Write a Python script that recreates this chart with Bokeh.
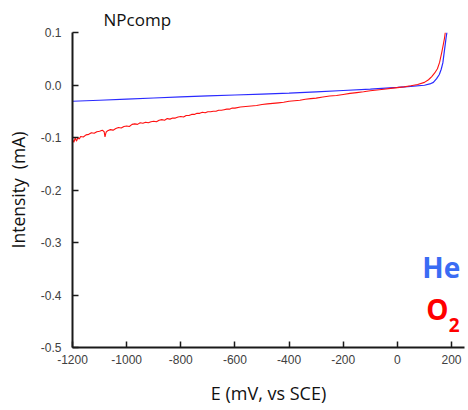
from bokeh.plotting import figure
from bokeh.models import Range1d, FixedTicker, Label, Title
from bokeh.embed import file_html
from bokeh.resources import INLINE

# ---- data ----
e_he = [-1200, -1100, -1000, -900, -800, -700, -600, -500, -400, -300, -200, -100, 0,
        50, 100, 120, 133, 145, 155, 162, 168, 173, 177, 180, 183]
i_he = [-0.031, -0.029, -0.027, -0.0248, -0.0225, -0.0208, -0.019, -0.0172, -0.0155, -0.013,
        -0.0105, -0.008, -0.0045, -0.0025, -0.0005, 0.002, 0.005, 0.012, 0.020, 0.030,
        0.042, 0.062, 0.078, 0.090, 0.1]

e_o2 = [-1200, -1195, -1190, -1185, -1180, -1175, -1170, -1160, -1150, -1140, -1130, -1120,
        -1110, -1100, -1090, -1083, -1080, -1076, -1070, -1060, -1050, -1040, -1030, -1020,
        -1010, -1000, -990, -980, -970, -960, -950, -940, -930, -920, -910, -900, -890, -880,
        -870, -860, -850, -840, -830, -820, -810, -800, -790, -780, -770, -760, -750, -740,
        -730, -720, -710, -700, -690, -680, -670, -660, -650, -640, -630, -620, -610, -600,
        -580, -560, -540, -520, -500, -480, -460, -440, -420, -400, -380, -360, -340, -320,
        -300, -275, -250, -225, -200, -175, -150, -125, -100, -75, -50, -25, 0, 25, 50, 75,
        100, 115, 127, 138, 148, 156, 164, 170, 174, 177]
i_o2 = [-0.104, -0.109, -0.101, -0.107, -0.100, -0.103, -0.098, -0.099, -0.095, -0.094, -0.091,
        -0.092, -0.089, -0.088, -0.086, -0.089, -0.099, -0.090, -0.087, -0.085, -0.086, -0.083,
        -0.081, -0.082, -0.079, -0.078, -0.079, -0.075, -0.074, -0.075, -0.072, -0.073, -0.071,
        -0.072, -0.070, -0.069, -0.070, -0.067, -0.066, -0.067, -0.064, -0.065, -0.063, -0.063,
        -0.061, -0.060, -0.061, -0.058, -0.058, -0.056, -0.056, -0.054, -0.054, -0.052, -0.053,
        -0.051, -0.051, -0.050, -0.050, -0.048, -0.048, -0.047, -0.046, -0.046, -0.044, -0.044,
        -0.042, -0.041, -0.040, -0.039, -0.037, -0.036, -0.035, -0.034, -0.033, -0.031, -0.030,
        -0.029, -0.027, -0.026, -0.025, -0.023, -0.021, -0.020, -0.018, -0.016, -0.0145, -0.013,
        -0.011, -0.0095, -0.008, -0.0065, -0.005, -0.0035, -0.0015, 0.001,
        0.005, 0.010, 0.016, 0.023, 0.031, 0.043, 0.062, 0.078, 0.089, 0.1]

x_ticks = [-1200, -1000, -800, -600, -400, -200, 0, 200]
x_tick_labels = ["-1200", "-1000", "-800", "-600", "-400", "-200", "0", "200"]
y_ticks = [-0.5, -0.4, -0.3, -0.2, -0.1, 0.0, 0.1]
y_tick_labels = ["-0.5", "-0.4", "-0.3", "-0.2", "-0.1", "0.0", "0.1"]

title_text = "NPcomp"
x_title = "E (mV, vs SCE)"
y_title = "Intensity\u00a0\u00a0(mA)"

font = "Open Sans"

p = figure(width=468, height=410, output_backend="svg", toolbar_location=None,
           x_range=Range1d(-1200, 248), y_range=Range1d(-0.5, 0.1),
           min_border_left=72, min_border_right=4, min_border_top=32, min_border_bottom=63)
p.title = Title(text=title_text, align="left", offset=31, standoff=3, text_font=font,
                text_font_size="17px", text_font_style="normal", text_color="#111111")
p.grid.visible = False
p.outline_line_color = None

p.line(e_he, i_he, line_color="#2a2aff", line_width=1.2)
p.line(e_o2, i_o2, line_color="#ff1010", line_width=1.1)

for ax in (p.xaxis[0], p.yaxis[0]):
    ax.axis_line_width = 2
    ax.axis_line_color = "#1a1a1a"
    ax.major_tick_line_color = "#1a1a1a"
    ax.major_tick_line_width = 1.5
    ax.major_tick_in = 6
    ax.major_tick_out = 0
    ax.minor_tick_line_color = None
    ax.major_label_text_font = "Liberation Sans"
    ax.major_label_text_font_size = "12px"
    ax.major_label_text_color = "#404040"
    ax.axis_label_text_font = font
    ax.axis_label_text_font_style = "normal"
    ax.axis_label_text_color = "#111111"

p.xaxis.ticker = FixedTicker(ticks=x_ticks)
p.xaxis.major_label_overrides = dict(zip(x_ticks, x_tick_labels))
p.yaxis.ticker = FixedTicker(ticks=y_ticks)
p.yaxis.major_label_overrides = dict(zip(y_ticks, y_tick_labels))
p.xaxis.axis_label = x_title
p.yaxis.axis_label = y_title
p.xaxis.axis_label_text_font_size = "18px"
p.yaxis.axis_label_text_font_size = "17.5px"
p.xaxis.major_label_standoff = 7
p.xaxis.axis_label_standoff = 14
p.yaxis.major_label_standoff = 11
p.yaxis.axis_label_standoff = 8

p.add_layout(Label(x=232, y=-0.3476, text="He", text_align="right", text_baseline="alphabetic",
                   text_font=font, text_font_size="28px", text_font_style="bold",
                   text_color="#3a6cf4"))
p.add_layout(Label(x=189, y=-0.4276, text="O", text_align="right", text_baseline="alphabetic",
                   text_font=font, text_font_size="28px", text_font_style="bold",
                   text_color="#ff0000"))
p.add_layout(Label(x=190, y=-0.4565, text="2", text_align="left", text_baseline="alphabetic",
                   text_font=font, text_font_size="19px", text_font_style="bold",
                   text_color="#ff0000"))

open("out.html", "w").write(file_html(p, INLINE))
